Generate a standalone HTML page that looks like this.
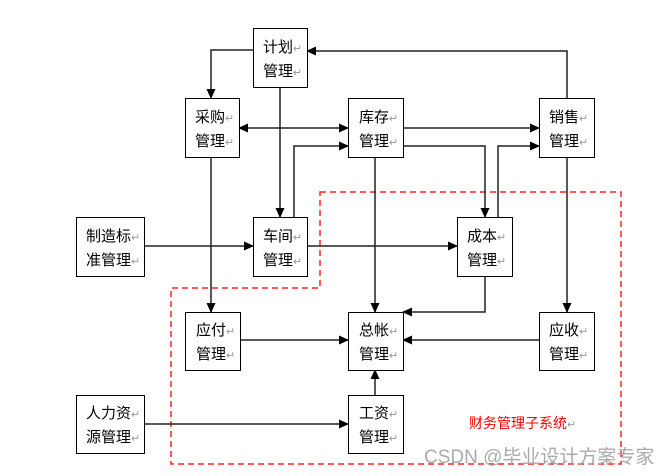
<!DOCTYPE html>
<html><head><meta charset="utf-8"><style>
html,body{margin:0;padding:0;background:#fff;width:670px;height:476px;overflow:hidden}
svg{display:block}
text{font-family:"Liberation Sans","Noto Sans CJK SC",sans-serif}
.b{font-size:15px;fill:#000}
.r{fill:#999;font-size:11px}
</style></head><body>
<svg width="670" height="476" viewBox="0 0 670 476" xmlns="http://www.w3.org/2000/svg">
<defs><marker id="a" markerWidth="10" markerHeight="9" refX="9" refY="4.5" orient="auto" markerUnits="userSpaceOnUse"><path d="M0,0 L10,4.5 L0,9 z" fill="#000"/></marker>
<marker id="s" markerWidth="10" markerHeight="9" refX="1" refY="4.5" orient="auto" markerUnits="userSpaceOnUse"><path d="M10,0 L0,4.5 L10,9 z" fill="#000"/></marker></defs>
<path d="M320,192 H621 V464 H171 V288 H320 Z" fill="none" stroke="#f22" stroke-width="1.5" stroke-dasharray="6,4"/>
<g fill="none" stroke="#222" stroke-width="1.5">
<path d="M253,50 H211 V98" marker-end="url(#a)"/>
<path d="M280,87 V217" marker-end="url(#a)"/>
<path d="M239,128 H348" marker-start="url(#s)" marker-end="url(#a)"/>
<path d="M294,217 V146 H348" marker-end="url(#a)"/>
<path d="M403,128 H539" marker-end="url(#a)"/>
<path d="M403,146 H485 V217" marker-end="url(#a)"/>
<path d="M498,217 V146 H539" marker-end="url(#a)"/>
<path d="M567,98 V51 H307" marker-end="url(#a)"/>
<path d="M144,246 H253" marker-end="url(#a)"/>
<path d="M307,246 H457" marker-end="url(#a)"/>
<path d="M211,157 V312" marker-end="url(#a)"/>
<path d="M375,157 V312" marker-end="url(#a)"/>
<path d="M485,276 V312 H403" marker-end="url(#a)"/>
<path d="M567,157 V312" marker-end="url(#a)"/>
<path d="M240,340 H348" marker-end="url(#a)"/>
<path d="M539,340 H403" marker-end="url(#a)"/>
<path d="M375,395 V370" marker-end="url(#a)"/>
<path d="M144,424 H348" marker-end="url(#a)"/>
</g>
<g fill="#fff" stroke="#000" stroke-width="1">
<rect x="253.5" y="28.5" width="54" height="59"/>
<rect x="185.5" y="98.5" width="54" height="59"/>
<rect x="348.5" y="98.5" width="55" height="59"/>
<rect x="539.5" y="98.5" width="55" height="59"/>
<rect x="76.5" y="217.5" width="68" height="59"/>
<rect x="253.5" y="217.5" width="54" height="59"/>
<rect x="457.5" y="217.5" width="55" height="59"/>
<rect x="185.5" y="312.5" width="55" height="58"/>
<rect x="348.5" y="312.5" width="55" height="58"/>
<rect x="539.5" y="312.5" width="55" height="58"/>
<rect x="76.5" y="395.5" width="68" height="58"/>
<rect x="348.5" y="395.5" width="55" height="58"/>
</g>
<g class="b">
<text x="263" y="52">计划<tspan class="r">↵</tspan></text><text x="263" y="76">管理<tspan class="r">↵</tspan></text>
<text x="195" y="122">采购<tspan class="r">↵</tspan></text><text x="195" y="146">管理<tspan class="r">↵</tspan></text>
<text x="359" y="122">库存<tspan class="r">↵</tspan></text><text x="359" y="146">管理<tspan class="r">↵</tspan></text>
<text x="549" y="122">销售<tspan class="r">↵</tspan></text><text x="549" y="146">管理<tspan class="r">↵</tspan></text>
<text x="86" y="241">制造标<tspan class="r">↵</tspan></text><text x="86" y="265">准管理<tspan class="r">↵</tspan></text>
<text x="263" y="241">车间<tspan class="r">↵</tspan></text><text x="263" y="265">管理<tspan class="r">↵</tspan></text>
<text x="467" y="241">成本<tspan class="r">↵</tspan></text><text x="467" y="265">管理<tspan class="r">↵</tspan></text>
<text x="196" y="335">应付<tspan class="r">↵</tspan></text><text x="196" y="359">管理<tspan class="r">↵</tspan></text>
<text x="359" y="335">总帐<tspan class="r">↵</tspan></text><text x="359" y="359">管理<tspan class="r">↵</tspan></text>
<text x="549" y="335">应收<tspan class="r">↵</tspan></text><text x="549" y="359">管理<tspan class="r">↵</tspan></text>
<text x="86" y="418">人力资<tspan class="r">↵</tspan></text><text x="86" y="442">源管理<tspan class="r">↵</tspan></text>
<text x="359" y="418">工资<tspan class="r">↵</tspan></text><text x="359" y="442">管理<tspan class="r">↵</tspan></text>
</g>
<text x="469" y="428" style="font-size:14px;fill:#f00">财务管理子系统<tspan class="r">↵</tspan></text>
<text x="424" y="463" style="font-size:19px;fill:#aaa">CSDN @毕业设计方案专家</text>
</svg>
</body></html>
